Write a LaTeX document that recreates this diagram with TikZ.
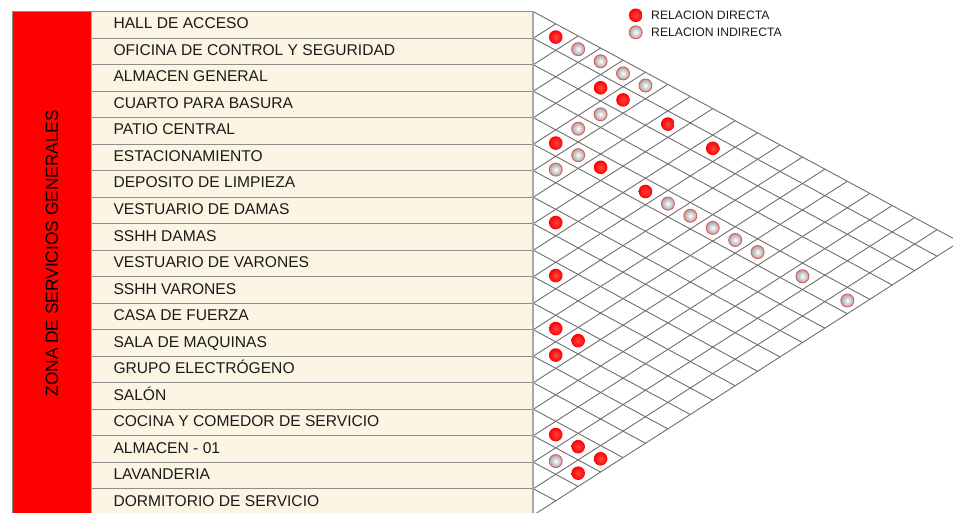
\documentclass[tikz,border=0pt]{standalone}
\usepackage{fontspec}
\setmainfont{Liberation Sans}
\definecolor{cream}{HTML}{FDF5E3}
\definecolor{zonered}{HTML}{FF0000}
\definecolor{gridgray}{HTML}{6E6E6E}
\definecolor{rulegray}{HTML}{8E8E8E}
\definecolor{edgegray}{HTML}{A8A8A8}
\definecolor{txt}{HTML}{1A1A1A}
\definecolor{ringred}{HTML}{E05A5A}
\def\MgX{533.3}
\def\MgY{11.7}
\def\MgH{26.5}
\def\MgD{22.43}
\def\MgA{0.54}
\def\MgB{0.6415}
\begin{document}
\begin{tikzpicture}[x=1pt,y=-1pt,
  rowtext/.style={anchor=base west, inner sep=0pt, text=txt, font=\fontsize{15.6}{16}\selectfont},
  legtext/.style={anchor=base west, inner sep=0pt, text=txt, font=\fontsize{12.2}{13}\selectfont},
  gridline/.style={draw=gridgray, line width=0.9pt},
  reldirect/.style={circle, inner sep=0pt, minimum size=13.6pt, shading=radial, inner color={rgb,255:red,255;green,70;blue,70}, outer color=red},
  relindirect/.style={circle, inner sep=0pt, minimum size=13pt, shading=radial, inner color=white, outer color={rgb,255:red,165;green,165;blue,165}, draw=ringred, line width=0.9pt}
]
\useasboundingbox (0,0) rectangle (953,513);
\clip (0,0) rectangle (953,513);

% table body
\fill[cream] (91.7,\MgY) rectangle (\MgX,530);
\fill[zonered] (12.3,\MgY) rectangle (91.7,530);
\foreach \k in {0,...,19}
  \draw[rulegray, line width=1.3pt] (91.7,{\MgY+\k*\MgH}) -- (\MgX,{\MgY+\k*\MgH});
\draw[rulegray, line width=1pt] (12.3,530) -- (12.3,\MgY) -- (\MgX,\MgY);
\draw[rulegray!70, line width=0.8pt] (91.7,\MgY) -- (91.7,530);

% grid
\foreach \k in {0,...,19} {
  \draw[gridline] ({\MgX},{\MgY+\k*\MgH}) -- ++({(19-\k)*\MgD},{(19-\k)*\MgD*\MgA});
  \draw[gridline] ({\MgX},{\MgY+\k*\MgH}) -- ++({\k*\MgD},{-\k*\MgD*\MgB});
}
\draw[edgegray, line width=1.8pt] (\MgX,\MgY) -- (\MgX,530);

% row labels
\foreach \t [count=\i from 0] in {HALL DE ACCESO, OFICINA DE CONTROL Y SEGURIDAD, ALMACEN GENERAL, CUARTO PARA BASURA, PATIO CENTRAL, ESTACIONAMIENTO, DEPOSITO DE LIMPIEZA, VESTUARIO DE DAMAS, SSHH DAMAS, VESTUARIO DE VARONES, SSHH VARONES, CASA DE FUERZA, SALA DE MAQUINAS, GRUPO ELECTRÓGENO, SALÓN, COCINA Y COMEDOR DE SERVICIO, ALMACEN - 01, LAVANDERIA, DORMITORIO DE SERVICIO}
  \node[rowtext] (row\i) at (113.3,{\MgY+17.3+\i*\MgH}) {\t};

% zone label
\node[rotate=90, inner sep=0pt, text=black, font=\fontsize{17.3}{18}\selectfont] (zone) at (51.8,253.3) {ZONA DE SERVICIOS GENERALES};

% relations
\foreach \i/\j in {0/1, 1/4, 1/5, 1/7, 1/9, 4/5, 4/7, 4/9, 7/8, 9/10, 11/12, 11/13, 12/13, 15/16, 15/17, 15/18, 16/18}
  \node[reldirect] (d\i x\j) at ({\MgX+(\j-\i)*\MgD},{\MgY+(\i+0.5)*\MgH+(\j-\i)*\MgD*\MgA}) {};
\foreach \i/\j in {0/2, 0/3, 0/4, 0/5, 2/5, 3/5, 4/6, 4/10, 4/11, 4/12, 4/13, 4/14, 4/16, 4/18, 5/6, 16/17}
  \node[relindirect] (d\i x\j) at ({\MgX+(\j-\i)*\MgD},{\MgY+(\i+0.5)*\MgH+(\j-\i)*\MgD*\MgA}) {};

% legend
\node[reldirect] (legd) at (635.7,15.3) {};
\node[relindirect] (legi) at (635.7,32.3) {};
\node[legtext] (legdt) at (651,20) {RELACION DIRECTA};
\node[legtext] (legit) at (651,37) {RELACION INDIRECTA};
\end{tikzpicture}
\end{document}
